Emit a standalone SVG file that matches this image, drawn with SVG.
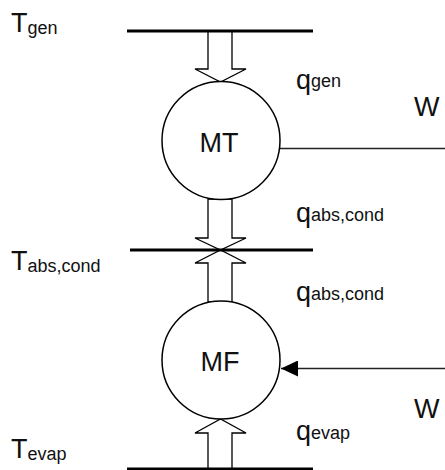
<svg xmlns="http://www.w3.org/2000/svg" width="445" height="470" viewBox="0 0 445 470">
  <style>
    .bar { stroke: #000; stroke-width: 3; fill: none; }
    .heat { fill: #fff; stroke: #000; stroke-width: 1.3; stroke-linejoin: miter; }
    .machine { fill: #fff; stroke: #000; stroke-width: 1.5; }
    .work { stroke: #222; stroke-width: 1.5; fill: none; }
    .lbl { font-family: "Liberation Sans", Arial, sans-serif; font-size: 27px; fill: #111; }
    .sub { font-size: 18px; }
    .mid { text-anchor: middle; }
  </style>
  <defs>
    <marker id="tip" markerUnits="userSpaceOnUse" markerWidth="18" markerHeight="16" refX="17" refY="8" orient="auto">
      <path d="M0,0 L17,8 L0,16 Z" fill="#000"/>
    </marker>
  </defs>

  <!-- heat flows and work shafts -->
  <g id="connectors">
    <!-- q_gen: hot reservoir down into MT -->
    <polygon class="heat" points="208,31 232,31 232,69 246,69 220.5,82 195,69 208,69"/>
    <!-- q_abs,cond: MT down to middle reservoir -->
    <polygon class="heat" points="208,199 232,199 232,238 246,238 220.5,250 195,238 208,238"/>
    <!-- q_abs,cond: MF up to middle reservoir -->
    <polygon class="heat" points="208,302 232,302 232,263 246,263 220.5,250 195,263 208,263"/>
    <!-- q_evap: cold reservoir up into MF -->
    <polygon class="heat" points="208,470 232,470 232,433 246,433 220.5,419 195,433 208,433"/>
    <!-- work out of MT -->
    <line class="work" x1="280" y1="148.5" x2="445" y2="148.5"/>
    <!-- work into MF -->
    <line class="work" x1="445" y1="368.5" x2="281" y2="368.5" marker-end="url(#tip)"/>
  </g>

  <g id="reservoir-gen">
    <line class="bar" x1="127" y1="31" x2="313" y2="31"/>
    <text class="lbl" x="11" y="32">T<tspan class="sub" dy="2">gen</tspan></text>
  </g>

  <g id="reservoir-abs-cond">
    <line class="bar" x1="130" y1="250" x2="313" y2="250"/>
    <text class="lbl" x="11" y="270">T<tspan class="sub" dy="2">abs,cond</tspan></text>
  </g>

  <g id="reservoir-evap">
    <line class="bar" x1="127" y1="469" x2="313" y2="469"/>
    <text class="lbl" x="11" y="458">T<tspan class="sub" dy="2">evap</tspan></text>
  </g>

  <g id="node-MT">
    <circle class="machine" cx="221" cy="140.5" r="59"/>
    <text class="lbl mid" x="219" y="152">MT</text>
  </g>

  <g id="node-MF">
    <circle class="machine" cx="221" cy="360" r="59"/>
    <text class="lbl mid" x="220" y="371">MF</text>
  </g>

  <g id="labels">
    <text class="lbl" x="296" y="89">q<tspan class="sub" dy="-2">gen</tspan></text>
    <text class="lbl" x="414" y="116">W</text>
    <text class="lbl" x="296" y="222">q<tspan class="sub" dy="-1">abs,cond</tspan></text>
    <text class="lbl" x="296" y="301">q<tspan class="sub" dy="-1">abs,cond</tspan></text>
    <text class="lbl" x="414" y="418">W</text>
    <text class="lbl" x="296" y="440">q<tspan class="sub" dy="-1">evap</tspan></text>
  </g>
</svg>
